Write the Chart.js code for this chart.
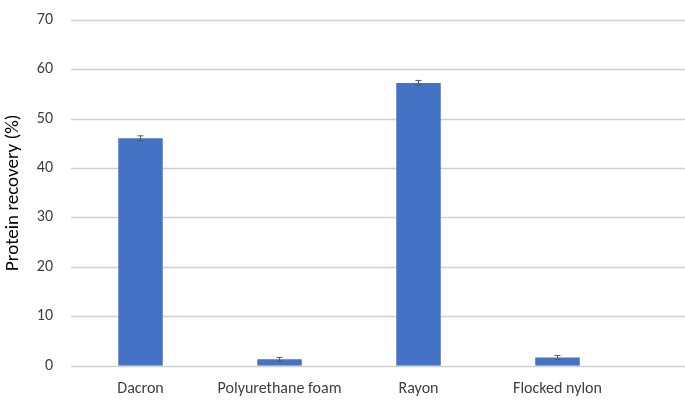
<!DOCTYPE html>
<html>
<head>
<script src="https://cdn.jsdelivr.net/npm/chart.js@4"></script>
<style>body{margin:0;background:#fff}#wrap{width:685px;height:405px}</style>
</head>
<body>
<div id="wrap"><canvas id="c"></canvas></div>
<script>
const categories = ["Dacron", "Polyurethane foam", "Rayon", "Flocked nylon"];
const recovery = [46.0, 1.3, 57.2, 1.7];
const errors = [0.5, 0.4, 0.5, 0.4];

// grid lines run to the right edge, past the last category
const gridPlugin = {
  id: "grid",
  beforeDatasetsDraw(chart) {
    const { ctx, chartArea, scales: { y } } = chart;
    ctx.save();
    ctx.strokeStyle = "#d0d0d0";
    ctx.lineWidth = 1.3;
    y.ticks.forEach((t) => {
      const py = Math.round(y.getPixelForValue(t.value)) + 0.5;
      ctx.beginPath();
      ctx.moveTo(chartArea.left, py);
      ctx.lineTo(chart.width, py);
      ctx.stroke();
    });
    ctx.restore();
  },
};

const errorPlugin = {
  id: "errors",
  afterDatasetsDraw(chart) {
    const { ctx, scales: { x, y } } = chart;
    ctx.save();
    ctx.strokeStyle = "#595959";
    ctx.lineWidth = 1;
    recovery.forEach((v, i) => {
      const px = x.getPixelForValue(i);
      const top = y.getPixelForValue(v + errors[i]);
      const bot = y.getPixelForValue(v - errors[i]);
      ctx.beginPath();
      ctx.moveTo(px, top); ctx.lineTo(px, bot);
      ctx.moveTo(px - 3, top); ctx.lineTo(px + 3, top);
      ctx.moveTo(px - 3, bot); ctx.lineTo(px + 3, bot);
      ctx.stroke();
    });
    ctx.restore();
  },
};

const font = "Calibri, Carlito, 'Open Sans', 'Liberation Sans'";

new Chart(document.getElementById("c"), {
  type: "bar",
  data: {
    labels: categories,
    datasets: [{
      data: recovery,
      backgroundColor: "#4472c4",
      barPercentage: 0.32,
      categoryPercentage: 1,
    }],
  },
  options: {
    responsive: true,
    maintainAspectRatio: false,
    animation: false,
    layout: { padding: { top: 4, right: 58, bottom: 0, left: 0 } },
    plugins: { legend: { display: false }, tooltip: { enabled: false } },
    scales: {
      x: {
        grid: { display: false },
        border: { display: false },
        ticks: { color: "#404040", padding: 6, font: { family: font, size: 16 }, maxRotation: 0 },
      },
      y: {
        min: 0, max: 70,
        ticks: { stepSize: 10, color: "#404040", padding: 10, font: { family: font, size: 16 } },
        grid: { display: false },
        border: { display: false },
        title: { display: true, text: "Protein recovery (%)", color: "#000", padding: 2, font: { family: font, size: 19 } },
      },
    },
  },
  plugins: [gridPlugin, errorPlugin],
});
</script>
</body>
</html>
